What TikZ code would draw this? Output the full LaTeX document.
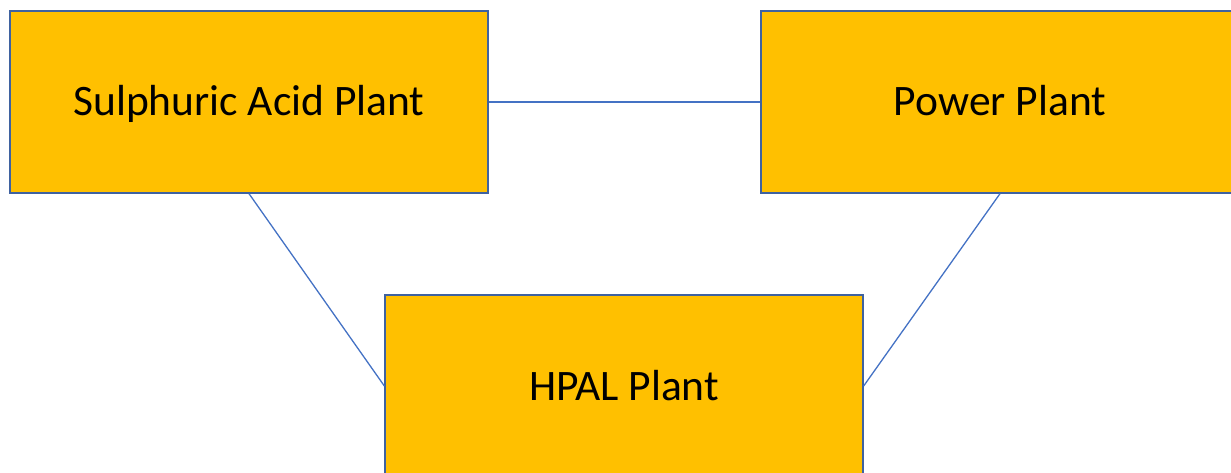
\documentclass[tikz,border=0pt]{standalone}
\usepackage{fontspec}
\setmainfont{Carlito}
\usepackage{tikz}
\usetikzlibrary{positioning}

\definecolor{plantfill}{HTML}{FFC000}
\definecolor{plantedge}{HTML}{3F62A0}
\definecolor{linkblue}{HTML}{4472C4}

\tikzset{
    plant/.style={draw=plantedge, line width=1.3pt, fill=plantfill,
                  minimum width=478pt, minimum height=182pt,
                  inner sep=0pt, text height=28pt, text depth=0pt,
                  font=\fontsize{43.5}{52}\selectfont},
    link/.style={draw=linkblue, line width=1.3pt}
}

\begin{document}
\begin{tikzpicture}[x=1pt, y=-1pt]
                \useasboundingbox (0,0) rectangle (1231,473);

                \node[plant] (acid)  at (249,102)  {Sulphuric Acid Plant};
                \node[plant] (power) at (1000,102) {Power Plant};
                \node[plant] (hpal)  at (624,386)  {HPAL Plant};

                \draw[link] (acid.east) -- (power.west);
                \draw[link] (acid.south) -- (hpal.west);
                \draw[link] (power.south) -- (hpal.east);

        \end{tikzpicture}
\end{document}
